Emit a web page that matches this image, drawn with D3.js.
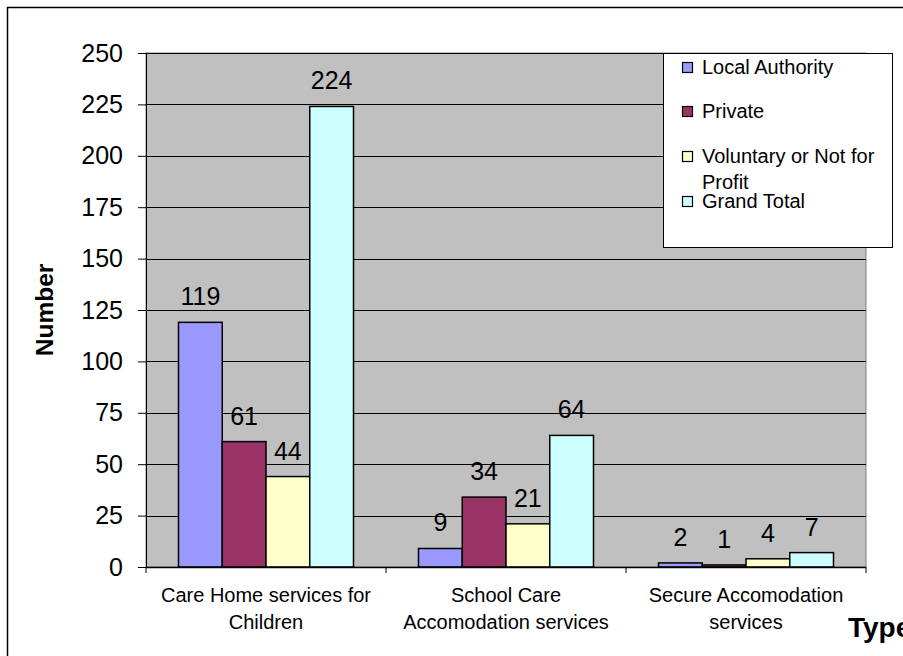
<!DOCTYPE html>
<html>
<head>
<meta charset="utf-8">
<script src="https://cdn.jsdelivr.net/npm/d3@7"></script>
<style>
  html, body { margin: 0; padding: 0; background: #fff; }
  svg { display: block; font-family: "Liberation Sans", Arial, sans-serif; }
</style>
</head>
<body>
<svg id="chart" width="903" height="656"></svg>
<script>
const categories = [
  ["Care Home services for", "Children"],
  ["School Care", "Accomodation services"],
  ["Secure Accomodation", "services"]
];
const seriesNames = ["Local Authority", "Private", "Voluntary or Not for Profit", "Grand Total"];
const localAuthority = [119, 9, 2];
const privateVals = [61, 34, 1];
const voluntary = [44, 21, 4];
const grandTotal = [224, 64, 7];
const yTicks = [0, 25, 50, 75, 100, 125, 150, 175, 200, 225, 250];
const colors = ["#9999FF", "#993366", "#FFFFCC", "#CCFFFF"];

const seriesValues = [localAuthority, privateVals, voluntary, grandTotal];

const svg = d3.select("#chart");
const plot = { left: 146, right: 866, top: 53, bottom: 567 };

// outer border
svg.append("rect").attr("x", 7.5).attr("y", 7.5).attr("width", 903).attr("height", 660)
  .attr("fill", "#fff").attr("stroke", "#000").attr("stroke-width", 1.5);

const y = d3.scaleLinear().domain([0, 250]).range([plot.bottom, plot.top]);
const x0 = d3.scaleBand().domain(d3.range(categories.length)).range([plot.left, plot.right]);
const x1 = d3.scaleBand().domain(d3.range(seriesNames.length))
  .range([32.5, x0.bandwidth() - 32.5]);

// plot area
svg.append("rect").attr("x", plot.left).attr("y", plot.top)
  .attr("width", plot.right - plot.left).attr("height", plot.bottom - plot.top)
  .attr("fill", "#C0C0C0").attr("stroke", "#808080").attr("stroke-width", 1);

// gridlines
svg.append("g").selectAll("line").data(yTicks.filter(d => d > 0)).join("line")
  .attr("x1", plot.left).attr("x2", plot.right)
  .attr("y1", d => Math.round(y(d)) + 0.5).attr("y2", d => Math.round(y(d)) + 0.5)
  .attr("stroke", "#000").attr("stroke-width", 1);

// y axis
const yAxis = d3.axisLeft(y).tickValues(yTicks).tickSize(8).tickPadding(15);
const gy = svg.append("g").attr("transform", `translate(${plot.left},0)`).call(yAxis);
gy.select(".domain").attr("stroke", "#000");
gy.selectAll(".tick line").attr("stroke", "#000");
gy.selectAll(".tick text").attr("font-size", 25).attr("fill", "#000")
  .attr("font-family", "'Liberation Sans', Arial, sans-serif");

// bars
const groups = svg.append("g").selectAll("g").data(categories.map((c, i) => i)).join("g")
  .attr("transform", i => `translate(${x0(i)},0)`);

groups.selectAll("rect").data(i => seriesValues.map((s, k) => ({ k, v: s[i] }))).join("rect")
  .attr("x", d => x1(d.k))
  .attr("y", d => y(d.v))
  .attr("width", x1.bandwidth())
  .attr("height", d => y(0) - y(d.v))
  .attr("fill", d => colors[d.k])
  .attr("stroke", "#000").attr("stroke-width", 1.5);

groups.selectAll("text").data(i => seriesValues.map((s, k) => ({ k, v: s[i] }))).join("text")
  .attr("x", d => x1(d.k) + x1.bandwidth() / 2)
  .attr("y", d => y(d.v) - 17)
  .attr("text-anchor", "middle")
  .attr("font-size", 25).attr("fill", "#000")
  .text(d => d.v);

// x axis
const gx = svg.append("g").attr("transform", `translate(0,${plot.bottom})`);
gx.append("line").attr("x1", plot.left).attr("x2", plot.right).attr("y1", 0.5).attr("y2", 0.5)
  .attr("stroke", "#000").attr("stroke-width", 1.5);
gx.selectAll("line.tk").data(d3.range(categories.length + 1)).join("line").attr("class", "tk")
  .attr("x1", i => i < categories.length ? x0(i) : plot.right)
  .attr("x2", i => i < categories.length ? x0(i) : plot.right)
  .attr("y1", 0).attr("y2", 6).attr("stroke", "#000");

categories.forEach((lines, i) => {
  const t = gx.append("text").attr("text-anchor", "middle").attr("font-size", 20).attr("fill", "#000")
    .attr("x", x0(i) + x0.bandwidth() / 2);
  lines.forEach((l, j) => {
    t.append("tspan").attr("x", x0(i) + x0.bandwidth() / 2).attr("y", 35 + j * 27).text(l);
  });
});

// axis titles
svg.append("text").attr("transform", "translate(53,310) rotate(-90)")
  .attr("text-anchor", "middle").attr("font-size", 24.5).attr("font-weight", "bold").text("Number");
svg.append("text").attr("x", 848).attr("y", 637)
  .attr("font-size", 28).attr("font-weight", "bold").text("Type");

// legend
const lg = svg.append("g");
lg.append("rect").attr("x", 663.5).attr("y", 53.5).attr("width", 229).attr("height", 194)
  .attr("fill", "#fff").attr("stroke", "#000").attr("stroke-width", 1);
const legendY = [74, 118, 163, 208];
seriesNames.forEach((name, k) => {
  lg.append("rect").attr("x", 682.5).attr("y", legendY[k] - 11.5).attr("width", 10).attr("height", 10)
    .attr("fill", colors[k]).attr("stroke", "#000").attr("stroke-width", 1.2);
  const t = lg.append("text").attr("font-size", 20).attr("fill", "#000");
  if (k === 2) {
    t.append("tspan").attr("x", 702).attr("y", legendY[k]).text("Voluntary or Not for");
    t.append("tspan").attr("x", 702).attr("y", legendY[k] + 26).text("Profit");
  } else {
    t.append("tspan").attr("x", 702).attr("y", legendY[k]).text(name);
  }
});
</script>
</body>
</html>
